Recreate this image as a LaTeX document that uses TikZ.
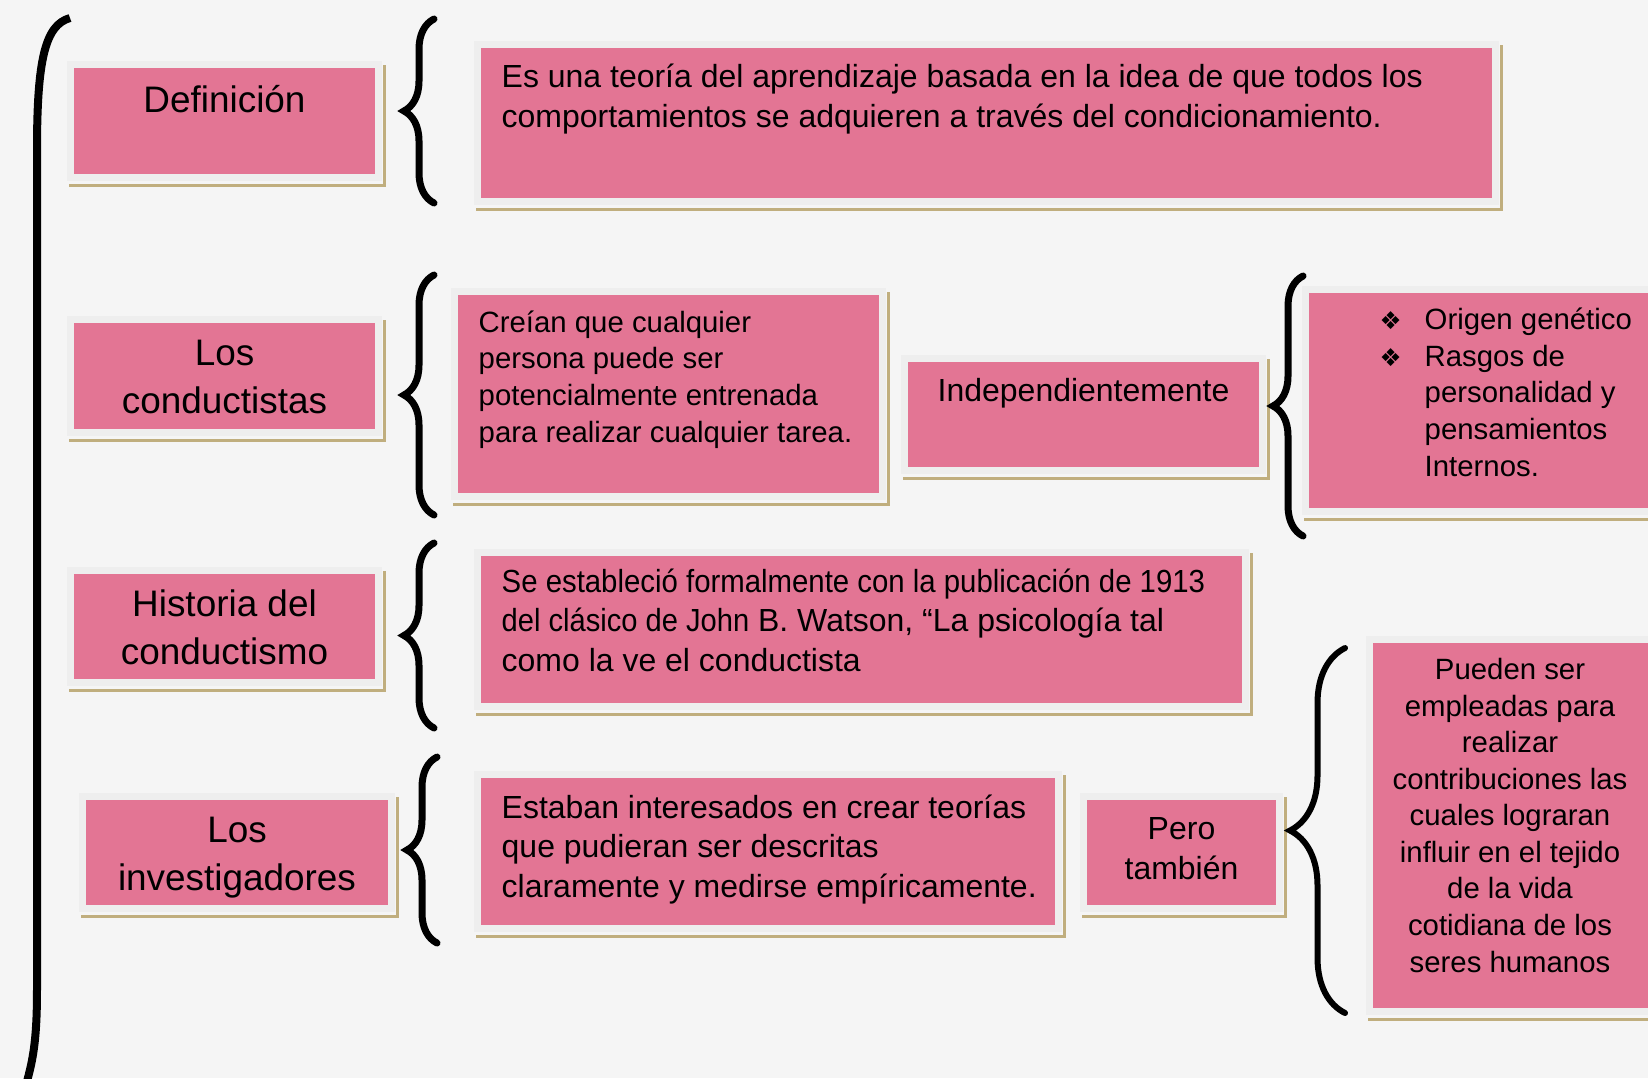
\documentclass[tikz,border=0pt]{standalone}
\usepackage{graphicx}
\usepackage{fontspec}
\setmainfont{Liberation Sans}
\newfontfamily\simbolos{DejaVu Sans}
\usetikzlibrary{decorations.pathreplacing,positioning}

\definecolor{rosa}{RGB}{227,117,148}
\definecolor{marco}{RGB}{238,238,238}
\definecolor{fondo}{RGB}{245,245,245}
\definecolor{sombra}{RGB}{192,174,126}

\newcommand{\bala}{\makebox[4.5mm][l]{\simbolos\fontsize{7}{7}\selectfont ❖}}
\newcommand{\sinbala}{\makebox[4.5mm]{}}

\begin{document}
\begin{tikzpicture}[x=0.1mm, y=-0.1mm,
  caja/.style={draw=marco, fill=rosa, line width=0.7mm, outer sep=0pt, inner sep=0pt, anchor=north west},
  titulo/.style={font=\fontsize{10.5}{13.4}\selectfont, align=center, inner sep=0pt, anchor=base},
  texto/.style={font=\fontsize{9.1}{11.2}\selectfont, align=left, inner sep=0pt, anchor=base west},
  chico/.style={font=\fontsize{8.35}{10.4}\selectfont, align=left, inner sep=0pt, anchor=base west},
  llave/.style={decorate, decoration={brace, amplitude=3mm}, line width=0.7mm, line cap=round},
  borde/.style={draw=sombra, line width=0.3mm}]

\clip (0,0) rectangle (1648,1078);
\fill[fondo] (0,0) rectangle (1648,1078);

% llave grande de la izquierda
\draw[line width=0.8mm] (70,18) .. controls (45,25) and (37,60) .. (37,150) -- (37,990) .. controls (37,1040) and (33,1060) .. (26,1085);

% definicion
\node[caja, minimum width=30.8mm, minimum height=11.3mm] (def) at (70.5,64.5) {};
\node[titulo] (defL) at (224.5,112) {Definición};
\node[caja, minimum width=101.8mm, minimum height=15.7mm] (defT) at (477.5,44.5) {};
\node[texto] (defTL) at (501,127) {Es una teoría del aprendizaje basada en la idea de que todos los\\comportamientos se adquieren a través del condicionamiento.};

% los conductistas
\node[caja, minimum width=30.8mm, minimum height=11.3mm] (cond) at (70.5,319.5) {};
\node[titulo] (condL) at (224.5,413) {Los\\conductistas};
\node[caja, minimum width=42.8mm, minimum height=20.5mm] (creT) at (454.5,291.5) {};
\node[chico] (creTL) at (478,442) {Creían que cualquier\\persona puede ser\\potencialmente entrenada\\para realizar cualquier tarea.};
\node[caja, minimum width=35.8mm, minimum height=11.2mm] (indep) at (904.5,358.5) {};
\node[texto, anchor=base, align=center] (indepL) at (1083.5,401) {Independientemente};
\node[caja, minimum width=36.8mm, minimum height=22.2mm] (orig) at (1305.5,289.5) {};
\node[chico] (origL) at (1379,476) {\bala Origen genético\\\bala Rasgos de\\\sinbala personalidad y\\\sinbala pensamientos\\\sinbala Internos.};

% historia
\node[caja, minimum width=30.8mm, minimum height=11.2mm] (hist) at (70.5,570.5) {};
\node[titulo] (histL) at (224.5,664) {Historia del\\conductismo};
\node[caja, minimum width=76.8mm, minimum height=15.4mm] (hisT) at (477.5,552.5) {};
\node[texto] (hisTL) at (501,671) {\scalebox{0.918}[1]{Se estableció formalmente con la publicación de 1913}\\\scalebox{0.91}[1]{del clásico de John} B. Watson, “La psicología tal\\como la ve el conductista};

% los investigadores
\node[caja, minimum width=30.9mm, minimum height=11.2mm] (inv) at (82.5,796.5) {};
\node[titulo] (invL) at (237,890) {Los\\investigadores};
\node[caja, minimum width=58.1mm, minimum height=15.4mm] (estT) at (477.5,774.5) {};
\node[texto] (estTL) at (501,897) {Estaban interesados en crear teorías\\que pudieran ser descritas\\claramente y medirse empíricamente.};
\node[caja, minimum width=19.6mm, minimum height=11.2mm] (pero) at (1083.5,796.5) {};
\node[texto, anchor=base, align=center] (peroL) at (1181.5,879) {Pero\\también};
\node[caja, minimum width=30.4mm, minimum height=37.2mm] (pued) at (1369.5,639.5) {};
\node[chico, anchor=base, align=center] (puedL) at (1510,972) {Pueden ser\\empleadas para\\realizar\\contribuciones las\\cuales lograran\\influir en el tejido\\de la vida\\cotidiana de los\\seres humanos};

% sombras de las cajas
\foreach \n in {def,defT,cond,creT,indep,orig,hist,hisT,inv,estT,pero,pued}
  \draw[borde] ([xshift=-0.15mm,yshift=-0.75mm]\n.south west) -| ([xshift=0.55mm]\n.north east);

% llaves
\draw[llave] (434,203) -- (434,19);
\draw[llave] (434,515) -- (434,275);
\draw[llave] (434,728) -- (434,543);
\draw[llave] (437,943) -- (437,757);
\draw[llave] (1303,536) -- (1303,276);
\draw[llave, line width=0.6mm, decoration={amplitude=5.5mm}] (1345,1013) -- (1345,648);

\end{tikzpicture}
\end{document}
